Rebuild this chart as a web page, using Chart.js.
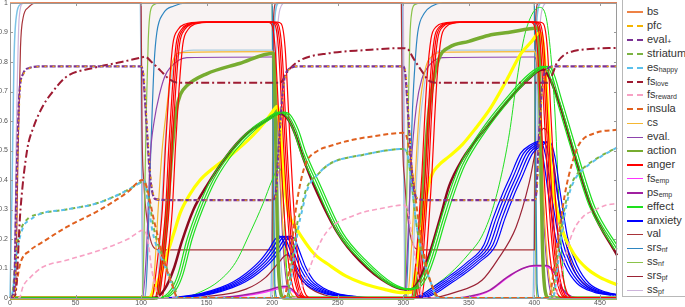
<!DOCTYPE html>
<html>
<head>
<meta charset="utf-8">
<script src="https://cdn.jsdelivr.net/npm/chart.js@4.4.1/dist/chart.umd.min.js"></script>
<style>
body{margin:0;background:#fff;width:685px;height:307px;overflow:hidden;font-family:"Liberation Sans",Arial,sans-serif}
#wrap{position:relative;width:685px;height:307px}
#chart{position:absolute;left:0;top:0}
#legend{position:absolute;left:622px;top:-2px;width:80px;height:299px;border:1px solid #b8b8b8;box-sizing:border-box;background:#fff}
.item{position:absolute;left:4px;height:14px;line-height:14px;font-size:11px;color:#333;white-space:nowrap}
.item i{display:inline-block;width:16px;height:0;vertical-align:middle;margin-right:4px}
.item sub{font-size:7px;vertical-align:-1px}
</style>
</head>
<body>
<div id="wrap">
<canvas id="chart" width="620" height="307"></canvas>
<div id="legend"></div>
</div>
<script>
// axes
const xMax = 463;
const xTickValues = [0, 50, 100, 150, 200, 250, 300, 350, 400, 450];
const yTickLabels = ["0", "0.1", "0.2", "0.3", "0.4", "0.5", "0.6", "0.7", "0.8", "0.9", "1"];
const shadedSpans = [[100, 200], [300, 400]];

// series, [t, value]
const bs = [[0,1],[463,1]];
const pfc = [[0,0],[4,0.02],[5.5,0.4],[7.5,0.68],[10.5,0.76],[16,0.78],[26,0.785],[100,0.785],[102,0.76],[104.5,0.6],[107,0.43],[109,0.36],[112,0.335],[120,0.332],[200,0.332],[203,0.35],[206,0.55],[209,0.72],[213,0.775],[220,0.785],[300,0.785],[302,0.76],[304.5,0.6],[307,0.43],[309,0.36],[312,0.335],[320,0.332],[400,0.332],[402,0.36],[404,0.55],[406.5,0.72],[410,0.775],[416,0.785],[463,0.785]];
const evalPlus = [[0,0],[3,0.02],[5,0.4],[7,0.68],[10,0.76],[15,0.78],[25,0.785],[100,0.785],[101.5,0.76],[104,0.6],[106.5,0.43],[108.5,0.36],[111,0.335],[120,0.332],[200,0.332],[202.5,0.35],[205.5,0.55],[208.5,0.72],[212.5,0.775],[220,0.785],[300,0.785],[301.5,0.76],[304,0.6],[306.5,0.43],[308.5,0.36],[311,0.335],[320,0.332],[400,0.332],[401.5,0.36],[403.5,0.55],[406,0.72],[409.5,0.775],[415,0.785],[463,0.785]];
const striatum = [[0,0],[2,0.02],[5,0.17],[9,0.24],[14,0.27],[22,0.285],[43,0.3],[69,0.325],[99,0.39],[102,0.4],[106,0.33],[110,0.23],[118,0.12],[125,0.04],[129,0],[211,0],[215,0.12],[219,0.25],[222,0.3],[226,0.37],[235,0.42],[244,0.455],[269,0.485],[300,0.505],[303,0.49],[306,0.4],[310,0.25],[316,0.12],[322,0.04],[326,0],[413,0],[418,0.15],[422,0.28],[426,0.36],[431,0.41],[440,0.45],[450,0.48],[463,0.51]];
const esHappy = [[0,0],[2,0.02],[5.5,0.16],[10,0.24],[15.5,0.265],[23,0.285],[43,0.3],[69,0.325],[99,0.39],[102,0.4],[105,0.33],[109,0.22],[117,0.12],[124,0.04],[128,0],[212,0],[216,0.12],[220,0.24],[223,0.3],[227,0.37],[235,0.42],[244,0.455],[269,0.485],[300,0.505],[303,0.49],[306,0.4],[310,0.25],[316,0.12],[322,0.04],[326,0],[414,0],[419,0.15],[423,0.28],[427,0.36],[432,0.41],[441,0.45],[451,0.48],[463,0.51]];
const fsLove = [[0,0],[4,0.01],[8,0.3],[13,0.5],[18,0.58],[25,0.65],[31,0.69],[43,0.75],[64,0.78],[85,0.8],[100,0.815],[103,0.818],[108,0.8],[115,0.77],[122,0.74],[128,0.73],[206,0.73],[212,0.77],[221,0.805],[244,0.83],[270,0.84],[300,0.847],[303,0.845],[308,0.81],[314,0.77],[320,0.735],[325,0.73],[410,0.73],[413,0.75],[417,0.795],[423,0.825],[430,0.837],[445,0.845],[463,0.848]];
const fsReward = [[0,0],[7,0],[10,0.04],[15.5,0.07],[25,0.105],[43,0.128],[69,0.163],[90,0.2],[102,0.23],[105,0.2],[108,0.1],[112,0.02],[115,0],[217,0],[221,0.02],[226,0.07],[231,0.13],[238,0.2],[246,0.245],[257,0.27],[269,0.29],[285,0.305],[300,0.315],[303,0.3],[307,0.2],[311,0.08],[315,0],[415,0],[419,0.05],[424,0.15],[430,0.23],[437,0.275],[447,0.3],[455,0.315],[463,0.32]];
const insula = [[0,0],[3,0.01],[8,0.12],[15,0.16],[25,0.19],[43,0.24],[69,0.3],[90,0.36],[101,0.4],[104,0.38],[110,0.26],[118,0.12],[124,0.04],[128,0],[209,0],[213,0.1],[218,0.3],[222,0.4],[226,0.46],[235,0.5],[244,0.515],[260,0.535],[280,0.55],[300,0.56],[303,0.54],[307,0.42],[312,0.25],[318,0.1],[324,0.02],[328,0],[411,0],[415,0.1],[420,0.26],[424,0.37],[429,0.46],[434,0.52],[447,0.56],[463,0.57]];
const cs = [[0,0],[106,0],[110,0.08],[113,0.3],[116,0.5],[120,0.66],[124,0.8],[130,0.832],[200,0.835],[202,0.8],[205,0.55],[208,0.25],[211,0.08],[215,0.01],[220,0],[303,0],[306,0.15],[309,0.4],[312,0.62],[317,0.78],[322,0.82],[330,0.833],[400,0.835],[402,0.8],[405,0.55],[408,0.25],[411,0.08],[415,0.01],[420,0],[463,0]];
const evalMinus = [[0,0],[101,0],[104,0.15],[107,0.48],[110,0.6],[114,0.69],[118,0.75],[122,0.78],[135,0.815],[200,0.817],[202,0.78],[205,0.5],[208,0.2],[211,0.05],[215,0],[301,0],[303,0.15],[306,0.45],[310,0.65],[314,0.74],[320,0.79],[330,0.815],[400,0.817],[402,0.78],[405,0.5],[408,0.2],[411,0.05],[415,0],[463,0]];
const action = [[0,0],[112,0],[115,0.08],[118,0.2],[121,0.35],[124,0.52],[127,0.64],[130,0.69],[135,0.72],[150,0.76],[175,0.795],[201,0.83],[202.5,0.6],[204,0.2],[206,0.03],[209,0],[308,0],[311,0.1],[314,0.3],[317,0.5],[320,0.65],[324,0.76],[328,0.82],[335,0.85],[350,0.87],[365,0.89],[380,0.9],[403,0.915],[404.5,0.6],[406,0.2],[408,0.03],[411,0],[463,0]];
const anger = [[0,0],[112,0],[115,0.08],[118,0.2],[120,0.3],[122.5,0.52],[125,0.7],[128,0.86],[132,0.91],[137,0.928],[150,0.935],[200,0.935],[203,0.93],[206,0.85],[209,0.6],[212,0.35],[215,0.17],[218,0.07],[222,0.01],[226,0],[310,0],[313,0.1],[316,0.28],[318,0.42],[320,0.6],[322,0.75],[325,0.88],[329,0.92],[335,0.932],[345,0.935],[400,0.935],[403,0.93],[406,0.85],[409,0.6],[412,0.35],[415,0.17],[418,0.07],[422,0.01],[426,0],[463,0]];
const fsEmp = [[0,0],[160,0],[180,0.008],[195,0.02],[205,0.032],[210,0.035],[215,0.025],[220,0.008],[226,0],[345,0],[358,0.01],[368,0.03],[380,0.07],[391,0.1],[400,0.108],[408,0.108],[413,0.095],[417,0.07],[421,0.03],[427,0.005],[434,0],[463,0]];
const psEmp = [[0,0],[150,0],[170,0.005],[185,0.015],[198,0.028],[205,0.037],[210,0.04],[215,0.03],[220,0.01],[226,0],[340,0],[355,0.01],[366,0.027],[379,0.07],[391,0.1],[400,0.11],[409,0.11],[414,0.095],[417,0.07],[422,0.027],[428,0.005],[435,0],[463,0]];
const effect = [[0,0],[115,0],[125,0.03],[130,0.08],[137,0.2],[145,0.3],[155,0.4],[170,0.5],[185,0.57],[198,0.61],[207,0.63],[212,0.62],[218,0.57],[224,0.49],[234,0.39],[252,0.22],[269,0.13],[290,0.05],[303,0.03],[310,0.035],[316,0.07],[322,0.14],[330,0.26],[338,0.37],[345,0.45],[360,0.56],[380,0.675],[398,0.76],[408,0.785],[412,0.77],[419,0.67],[429,0.52],[444,0.31],[463,0.165]];
const anxiety = [[0,0],[120,0],[135,0.005],[150,0.015],[165,0.035],[175,0.055],[185,0.085],[195,0.125],[202,0.165],[207,0.2],[210,0.21],[213,0.195],[217,0.15],[221,0.105],[227,0.06],[234,0.035],[245,0.015],[260,0.005],[275,0],[310,0],[320,0.015],[330,0.045],[340,0.075],[353,0.12],[366,0.18],[373,0.27],[380,0.35],[386,0.41],[394,0.49],[402,0.52],[407,0.53],[411,0.48],[415,0.36],[421,0.2],[428,0.11],[437,0.05],[450,0.02],[463,0.01]];
const val = [[0,0],[4,0],[6,0.45],[8,0.85],[10,0.95],[14,0.985],[20,1],[100,1],[100.6,0.6],[102,0.4],[105,0.25],[108,0.185],[112,0.165],[120,0.163],[200,0.163],[200.4,0.6],[201,0.95],[203,1],[298.5,1],[299.2,0.6],[301,0.4],[304,0.25],[307,0.185],[311,0.165],[320,0.163],[400,0.163],[400.4,0.6],[401,0.95],[403,1],[463,1]];
const srsNf = [[0,0],[103,0],[105,0.15],[107,0.45],[108.5,0.64],[110,0.8],[112,0.9],[117,0.965],[125,0.99],[135,1],[200,1],[200.8,0.5],[202,0.05],[204,0],[302,0],[304,0.2],[305.5,0.45],[307,0.64],[309,0.8],[311,0.9],[316,0.965],[322,0.99],[330,1],[400,1],[400.8,0.5],[402,0.05],[404,0],[463,0]];
const ssNf = [[0,0],[100.5,0],[102,0.15],[103,0.4],[104,0.64],[105.5,0.88],[107,0.97],[110,0.995],[115,1],[200,1],[200.5,0.5],[201.3,0.05],[202.5,0],[301,0],[302,0.2],[303,0.45],[303.8,0.64],[305,0.88],[306.5,0.97],[309,0.995],[315,1],[400,1],[400.5,0.5],[401.3,0.05],[402.5,0],[463,0]];
const srsPf = [[0,0],[120,0],[150,0.005],[180,0.03],[195,0.07],[205,0.12],[211,0.146],[215,0.13],[220,0.08],[227,0.04],[240,0.01],[255,0],[320,0],[340,0.02],[360,0.06],[372,0.13],[386,0.24],[396,0.39],[402,0.52],[407,0.575],[411,0.55],[415,0.45],[420,0.28],[428,0.12],[440,0.04],[463,0.01]];
const ssPf = [[0,0],[3,0],[5,0.6],[7,0.95],[10,1],[100,1],[100.8,0.5],[102,0],[200,0],[201,0.3],[203,0.8],[206,0.98],[210,1],[300,1],[300.8,0.5],[302,0],[400,0],[401,0.3],[403,0.8],[406,0.98],[410,1],[463,1]];
// unlabelled traces
const yellowTrace = [[0,0],[106,0],[110,0.03],[115,0.08],[120,0.15],[125,0.22],[130,0.29],[137,0.35],[145,0.4],[155,0.44],[170,0.49],[185,0.55],[195,0.6],[200,0.63],[204,0.65],[206,0.58],[208,0.45],[212,0.3],[218,0.24],[222,0.21],[232,0.15],[244,0.11],[256,0.075],[269,0.05],[285,0.03],[300,0.018],[306,0.02],[309,0.08],[313,0.2],[317,0.33],[321,0.41],[327,0.45],[335,0.48],[345,0.52],[356,0.58],[366,0.64],[379,0.74],[390,0.83],[398,0.87],[404,0.9],[407,0.85],[410,0.65],[413,0.42],[417,0.3],[422,0.22],[430,0.15],[440,0.1],[450,0.07],[463,0.045]];
const maroonTrace = [[0,0],[110,0],[118,0.03],[125,0.1],[131,0.19],[140,0.3],[150,0.38],[165,0.48],[180,0.555],[195,0.6],[205,0.625],[209,0.62],[213,0.6],[218,0.55],[224,0.47],[232,0.38],[250,0.22],[267,0.125],[288,0.05],[300,0.03],[306,0.03],[312,0.06],[320,0.15],[328,0.27],[335,0.38],[345,0.47],[360,0.56],[380,0.67],[395,0.74],[403,0.77],[407,0.775],[411,0.75],[419,0.66],[429,0.51],[444,0.3],[463,0.145]];
const greenTrace = [[0,0],[130,0],[145,0.02],[160,0.06],[172,0.12],[183,0.22],[193,0.32],[200,0.4],[205,0.44],[207,0.43],[209,0.3],[211,0.1],[214,0],[310,0],[320,0.03],[335,0.08],[350,0.15],[360,0.21],[368,0.3],[375,0.42],[381,0.56],[386,0.72],[392,0.88],[398,0.96],[404,0.985],[409,0.95],[413,0.8],[416,0.6],[419,0.3],[422,0.08],[426,0],[463,0]];
const plateauTrace = [[0,0],[112,0],[115,0.25],[118,0.5],[121,0.68],[125,0.79],[130,0.83],[140,0.84],[200,0.84],[201.5,0.75],[204,0.4],[207,0.1],[210,0],[306,0],[309,0.3],[312,0.55],[316,0.72],[320,0.8],[326,0.835],[335,0.84],[400,0.84],[401.5,0.75],[404,0.4],[407,0.1],[410,0],[463,0]];
const topTrace = [[0,0],[1.5,0.35],[3,0.8],[5,0.96],[8,0.995],[12,1],[99.5,1],[100.5,0.4],[101.5,0.03],[103,0],[199,0],[200.5,0.5],[202,0.95],[205,1],[299.5,1],[300.5,0.4],[301.5,0.03],[303,0],[399,0],[400.5,0.5],[402,0.95],[405,1],[463,1]];

const shadeColor = "#f8f3f3";

function line(data, color, width, extra) {
  return Object.assign({
    data: data, borderColor: color, borderWidth: width,
    pointRadius: 0, fill: false, cubicInterpolationMode: "monotone", clip: 3
  }, extra || {});
}

// index 0 is drawn last (on top)
const datasets = [
  line(bs, "#ee8245", 1.5, {legend: ["bs", ""]}),
  line(pfc, "#f4b400", 1.3, {borderDash: [2, 6], borderDashOffset: 5, legend: ["pfc", ""]}),
  line(evalPlus, "#7b3294", 2.2, {borderDash: [6, 2], legend: ["eval", "+"]}),
  line(fsLove, "#9e1b32", 2, {borderDash: [8, 3, 2, 3], legend: ["fs", "love"]}),
  line(insula, "#e0601f", 2, {borderDash: [5, 3], legend: ["insula", ""]}),
  line(esHappy, "#5bc0eb", 2, {borderDash: [4, 4], borderDashOffset: 4, legend: ["es", "happy"]}),
  line(striatum, "#7cb342", 2, {borderDash: [4, 4], legend: ["striatum", ""]}),
  line(fsReward, "#f7a1c4", 1.6, {borderDash: [5, 3], legend: ["fs", "reward"]}),
  line(effect, "#1ee01e", 1.2, {bundle: [-2.5, 2.5], legend: ["effect", ""]}),
  line(maroonTrace, "#8b0a1e", 2.5),
  line(anger, "#ff0000", 1.2, {bundle: [-5, -1.7, 1.7, 5], legend: ["anger", ""]}),
  line(yellowTrace, "#ffff00", 3.2),
  line(action, "#77ac30", 3.5, {legend: ["action", ""]}),
  line(anxiety, "#0000ff", 1.2, {bundle: [-6, -3, 3, 6], legend: ["anxiety", ""]}),
  line(srsPf, "#9b2335", 1.2, {legend: ["srs", "pf"]}),
  line(psEmp, "#a020a0", 1.5, {legend: ["ps", "emp"]}),
  line(fsEmp, "#ff33ff", 1.2, {legend: ["fs", "emp"]}),
  line(greenTrace, "#22e022", 1),
  line(cs, "#f5b731", 1.2, {legend: ["cs", ""]}),
  line(evalMinus, "#8e44ad", 1.2, {legend: ["eval", "-"]}),
  line(plateauTrace, "#a9cbe0", 1.2),
  line(srsNf, "#2e86c1", 1.2, {legend: ["srs", "nf"]}),
  line(ssNf, "#8bc34a", 1.2, {legend: ["ss", "nf"]}),
  line(val, "#a8343a", 1.2, {legend: ["val", ""]}),
  line(ssPf, "#cdb4db", 1.2, {legend: ["ss", "pf"]}),
  line(topTrace, "#7ec3e6", 1.5)
];

const legendOrder = ["bs", "pfc", "eval+", "striatum", "eshappy", "fslove", "fsreward", "insula", "cs", "eval-",
  "action", "anger", "fsemp", "psemp", "effect", "anxiety", "val", "srsnf", "ssnf", "srspf", "sspf"];

// shaded phases, box, inward ticks and tick labels
const framePlugin = {
  id: "frame",
  beforeDatasetsDraw(chart) {
    const ctx = chart.ctx, a = chart.chartArea, x = chart.scales.x;
    ctx.save();
    ctx.fillStyle = shadeColor;
    shadedSpans.forEach(s => {
      const x0 = x.getPixelForValue(s[0]), x1 = x.getPixelForValue(s[1]);
      ctx.fillRect(x0, a.top, x1 - x0, a.bottom - a.top);
    });
    ctx.restore();
  },
  afterDraw(chart) {
    const ctx = chart.ctx, a = chart.chartArea, x = chart.scales.x, y = chart.scales.y;
    ctx.save();
    ctx.strokeStyle = "#9a9a9a";
    ctx.lineWidth = 1;
    ctx.strokeRect(a.left + 0.5, a.top + 0.5, a.right - a.left - 1, a.bottom - a.top);
    ctx.beginPath();
    xTickValues.forEach(v => {
      const px = Math.round(x.getPixelForValue(v)) + 0.5;
      ctx.moveTo(px, a.bottom); ctx.lineTo(px, a.bottom - 3);
      ctx.moveTo(px, a.top); ctx.lineTo(px, a.top + 3);
    });
    yTickLabels.forEach((l, i) => {
      const py = Math.round(y.getPixelForValue(i / 10)) + 0.5;
      ctx.moveTo(a.left, py); ctx.lineTo(a.left + 3, py);
      ctx.moveTo(a.right, py); ctx.lineTo(a.right - 3, py);
    });
    ctx.stroke();
    ctx.fillStyle = "#555";
    ctx.font = "7px 'Liberation Sans', Arial, sans-serif";
    ctx.textAlign = "center";
    ctx.textBaseline = "middle";
    xTickValues.forEach(v => ctx.fillText(String(v), x.getPixelForValue(v), a.bottom + 5));
    ctx.textAlign = "right";
    yTickLabels.forEach((l, i) => ctx.fillText(l, a.left - 2, y.getPixelForValue(i / 10)));
    ctx.restore();
  }
};

// bundles of nearly parallel lines
const bundlePlugin = {
  id: "bundle",
  afterDatasetDraw(chart, args) {
    const ds = chart.data.datasets[args.index];
    if (!ds.bundle) return;
    const ctx = chart.ctx, a = chart.chartArea;
    ctx.save();
    ctx.beginPath();
    ctx.rect(a.left, a.top - 3, a.right - a.left, a.bottom - a.top + 6);
    ctx.clip();
    ds.bundle.forEach(dx => {
      ctx.save();
      ctx.translate(dx, 0);
      args.meta.dataset.draw(ctx, a);
      ctx.restore();
    });
    ctx.restore();
  }
};

new Chart(document.getElementById("chart"), {
  type: "line",
  data: {datasets: datasets},
  options: {
    responsive: false,
    animation: false,
    devicePixelRatio: 1,
    layout: {padding: {top: 3, right: 3, left: 0, bottom: 0}},
    plugins: {legend: {display: false}, tooltip: {enabled: false}},
    scales: {
      x: {
        type: "linear", min: 0, max: xMax,
        grid: {display: false}, border: {display: false},
        ticks: {display: false, stepSize: 50},
        afterFit(s) { s.height = 9; }
      },
      y: {
        min: 0, max: 1,
        grid: {display: false}, border: {display: false},
        ticks: {display: false, stepSize: 0.1},
        afterFit(s) { s.width = 10; }
      }
    }
  },
  plugins: [framePlugin, bundlePlugin]
});

// legend with subscripts
const legendBox = document.getElementById("legend");
legendOrder.forEach((key, i) => {
  const ds = datasets.find(d => d.legend && (d.legend[0] + d.legend[1]) === key);
  const dash = ds.borderDash ? "dashed" : "solid";
  const w = ds.borderDash || ds.bundle ? 2 : Math.max(1, Math.min(2, Math.round(ds.borderWidth)));
  const item = document.createElement("div");
  item.className = "item";
  item.style.top = (12 + i * 13.9 - 7) + "px";
  const sw = document.createElement("i");
  sw.style.borderTop = w + "px " + dash + " " + ds.borderColor;
  item.appendChild(sw);
  item.appendChild(document.createTextNode(ds.legend[0]));
  if (ds.legend[1]) {
    const s = document.createElement("sub");
    s.textContent = ds.legend[1];
    item.appendChild(s);
  }
  legendBox.appendChild(item);
});
</script>
</body>
</html>
